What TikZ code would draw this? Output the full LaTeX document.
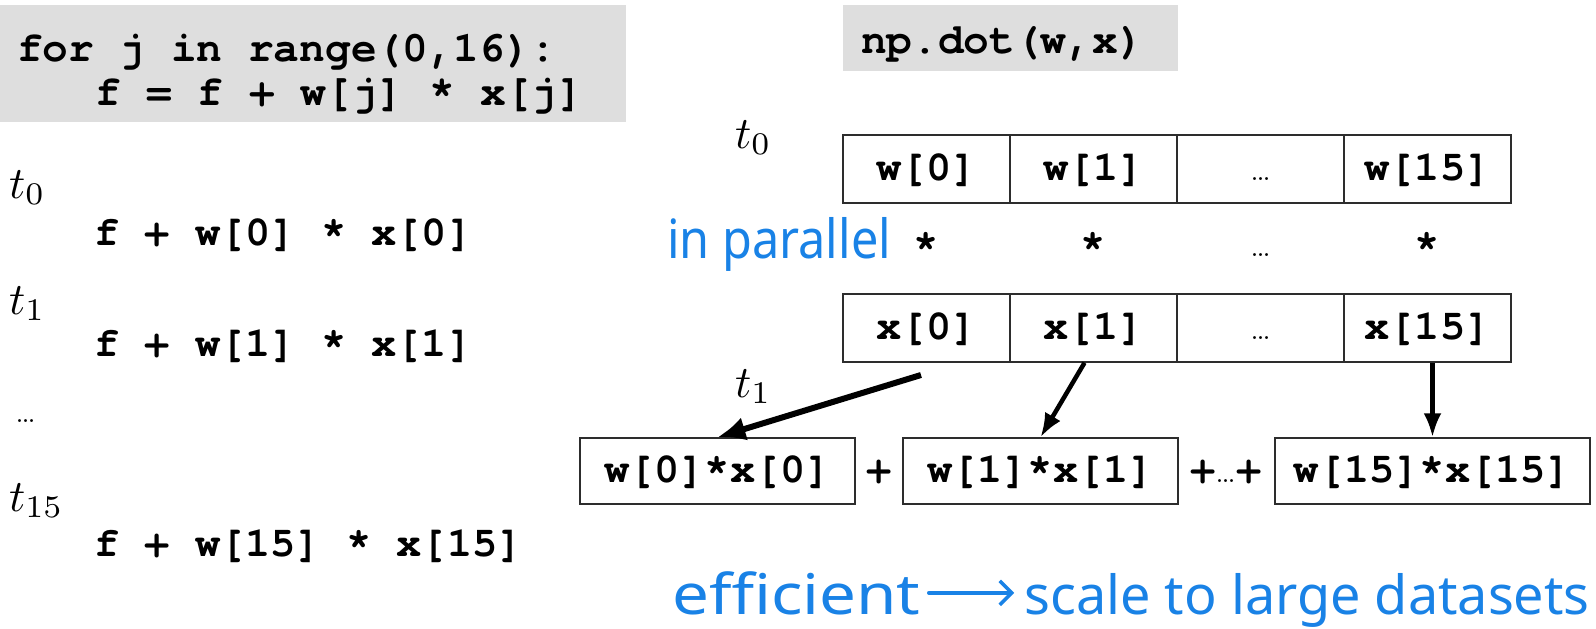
\documentclass[tikz,border=0pt]{standalone}
\usepackage{fontspec}
\setmonofont{texgyrecursor}[Extension=.otf, UprightFont=*-regular, BoldFont=*-bold]
\newfontfamily\handfont{Noto Sans}
\usetikzlibrary{arrows.meta,calc}
\definecolor{codegray}{RGB}{222,222,222}
\definecolor{handblue}{RGB}{25,130,230}
\definecolor{boxline}{RGB}{45,45,45}
\tikzset{
  code/.style={font=\fontsize{42}{48}\selectfont\ttfamily\bfseries, anchor=base west, inner sep=0pt},
  loopcode/.style={code, font=\fontsize{42.8}{48}\selectfont\ttfamily\bfseries},
  cell/.style={draw=boxline, line width=1.5pt, minimum width=167pt, minimum height=68pt, inner sep=0pt,
    font=\fontsize{42}{48}\selectfont\ttfamily\bfseries, text height=30pt, text depth=8pt},
  sumbox/.style={cell, minimum height=66pt},
  plain/.style={font=\fontsize{42}{48}\selectfont\ttfamily\bfseries, inner sep=0pt, text height=30pt, text depth=8pt},
  tlab/.style={anchor=base west, inner sep=0pt},
  hand/.style={text=handblue, font=\fontsize{54}{60}\selectfont\handfont, inner sep=0pt, anchor=base west},
  dotsl/.style={font=\fontsize{36}{40}\selectfont, inner sep=0pt, anchor=base},
  bigarrow/.style={line width=6pt, -{Latex[length=28pt,width=24pt]}},
  midarrow/.style={line width=4.5pt, -{Latex[length=24pt,width=18pt]}},
}
\newcommand{\smalldots}{{\fontsize{36}{40}\selectfont\rmfamily\mdseries\ldots}}
\newcommand{\tsub}[1]{\scalebox{4.5}{$t_{#1}$}}
\begin{document}
\begin{tikzpicture}[x=1pt,y=-1pt]
\useasboundingbox (0,0) rectangle (1596,629);
% code boxes
\fill[codegray] (0,5) rectangle (626,122);
\fill[codegray] (843,5) rectangle (1178,71);
\node[loopcode] (l1) at (17,61) {for j in range(0,16):};
\node[loopcode] (l2) at (95,105) {f = f + w[j] * x[j]};
\node[loopcode] (np) at (861,53) {np.dot(w,x)};
% left column
\node[tlab] (lt0) at (9,198) {\tsub{0}};
\node[code] (f0) at (94,245) {f + w[0] * x[0]};
\node[tlab] (lt1) at (9,314) {\tsub{1}};
\node[code] (f1) at (94,356) {f + w[1] * x[1]};
\node[dotsl] (ld) at (26,422) {\ldots};
\node[tlab] (lt15) at (9,511) {\tsub{15}};
\node[code] (f15) at (94,556) {f + w[15] * x[15]};
% right side
\node[tlab] (rt0) at (735,148) {\tsub{0}};
\node[cell] (w0) at (926.5,169) {w[0]};
\node[cell] (w1) at (1093.5,169) {w[1]};
\node[cell] (w2) at (1260.5,169) {\smalldots};
\node[cell] (w3) at (1427.5,169) {w[15]};
\node[hand] (par) at (667,258) {\scalebox{0.9}[1]{in parallel}};
\node[plain] (s0) at (926.5,247) {*};
\node[plain] (s1) at (1093.5,247) {*};
\node[dotsl] (s2) at (1260.5,256) {\ldots};
\node[plain] (s3) at (1427.5,247) {*};
\node[cell] (x0) at (926.5,328) {x[0]};
\node[cell] (x1) at (1093.5,328) {x[1]};
\node[cell] (x2) at (1260.5,328) {\smalldots};
\node[cell] (x3) at (1427.5,328) {x[15]};
\node[tlab] (rt1) at (735,397) {\tsub{1}};
\node[sumbox, minimum width=275pt] (b1) at (717.5,471) {w[0]*x[0]};
\node[plain] (p1) at (879,471) {+};
\node[sumbox, minimum width=275pt] (b2) at (1040.5,471) {w[1]*x[1]};
\node[plain] (p2) at (1226,471) {+\smalldots+};
\node[sumbox, minimum width=315pt] (b3) at (1432.5,471) {w[15]*x[15]};
\coordinate (a1s) at (921,375);
\coordinate (a2s) at ($(x1.south)+(-9,0)$);
\draw[bigarrow] (a1s) -- (b1.north);
\draw[midarrow] (a2s) -- (b2.north);
\draw[midarrow] (x3.south -| b3.north) -- (b3.north);
% bottom note
\node[hand, font=\fontsize{56}{62}\selectfont\handfont] (eff) at (672,614) {\scalebox{1.17}[1]{efficient}};
\node[hand, anchor=base east] (scl) at (1590,614) {scale to large datasets};
\draw[handblue, line width=3.5pt, line cap=round, -{Straight Barb[length=12pt,width=24pt]}, shorten <=8pt, shorten >=10pt] (eff.east) -- (eff.east -| scl.west);
\end{tikzpicture}
\end{document}
